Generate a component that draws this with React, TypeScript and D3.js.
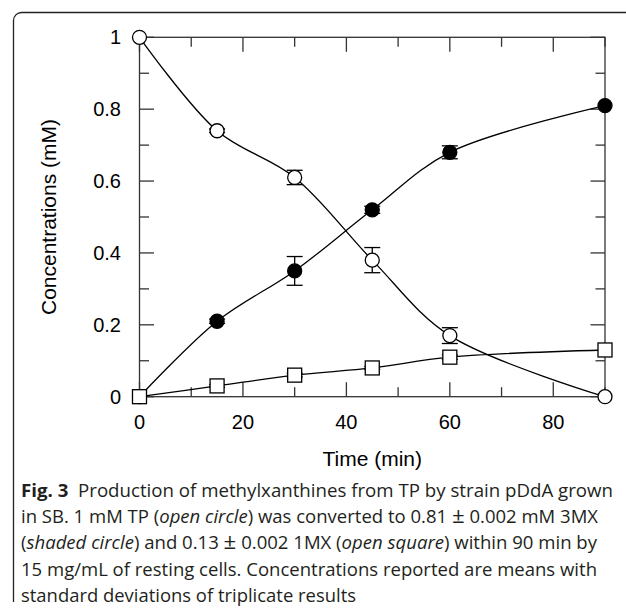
import React from "react";
import * as d3 from "d3";

const timeMin = [0, 15, 30, 45, 60, 90];
const tpMean = [1, 0.74, 0.61, 0.38, 0.17, 0];
const tpSd = [0, 0.005, 0.02, 0.035, 0.022, 0];
const mx3Mean = [0, 0.21, 0.35, 0.52, 0.68, 0.81];
const mx3Sd = [0, 0.006, 0.04, 0.01, 0.018, 0];
const mx1Mean = [0, 0.03, 0.06, 0.08, 0.11, 0.13];
const mx1Sd = [0, 0.004, 0.005, 0.004, 0.006, 0];

const xTickValues = [0, 10, 20, 30, 40, 50, 60, 70, 80, 90];
const xTickLabels = ["0", "", "20", "", "40", "", "60", "", "80", ""];
const yTickValues = [0, 0.1, 0.2, 0.3, 0.4, 0.5, 0.6, 0.7, 0.8, 0.9, 1];
const yTickLabels = ["0", "", "0.2", "", "0.4", "", "0.6", "", "0.8", "", "1"];

const xTitle = "Time (min)";
const yTitle = "Concentrations (mM)";

const W = 626;
const H = 612;
const left = 139.5;
const right = 605;
const top = 37.3;
const bottom = 396.7;

const x = d3.scaleLinear().domain([0, 90]).range([left, right]);
const y = d3.scaleLinear().domain([0, 1]).range([bottom, top]);

const line = d3
  .line<[number, number]>()
  .x((d) => x(d[0]))
  .y((d) => y(d[1]))
  .curve(d3.curveCatmullRom.alpha(0.5));

const axisColor = "#333";
const fontAxis = "'Liberation Sans', Arial, Helvetica, sans-serif";
const fontCap = "'Open Sans', 'Noto Sans', sans-serif";

function series(mean: number[]): [number, number][] {
  return timeMin.map((t, i) => [t, mean[i]]);
}

function ErrorBars({ mean, sd }: { mean: number[]; sd: number[] }) {
  return (
    <g stroke="#000" strokeWidth={1.3}>
      {timeMin.map((t, i) =>
        sd[i] > 0 ? (
          <g key={i}>
            <line x1={x(t)} x2={x(t)} y1={y(mean[i] - sd[i])} y2={y(mean[i] + sd[i])} />
            <line x1={x(t) - 8} x2={x(t) + 8} y1={y(mean[i] - sd[i])} y2={y(mean[i] - sd[i])} />
            <line x1={x(t) - 8} x2={x(t) + 8} y1={y(mean[i] + sd[i])} y2={y(mean[i] + sd[i])} />
          </g>
        ) : null
      )}
    </g>
  );
}

export default function App() {
  const majorLen = 14.5;
  const minorLen = 9.5;
  const capStart = 21;
  const capBase = 497;
  const capStep = 26.2;
  const capLens = [592, 577, 576, 576, 335];
  const pm = <tspan fontSize={21}>{"\u00b1"}</tspan>;
  return (
    <svg
      width={W}
      height={H}
      viewBox={`0 0 ${W} ${H}`}
      style={{ position: "fixed", left: 0, top: 0, background: "#fff" }}
    >
      <rect x={0} y={0} width={W} height={H} fill="#fff" />
      {/* frame */}
      <path
        d={`M13.5,602 V20.5 A8,8 0 0 1 21.5,12.5 H626`}
        fill="none"
        stroke="#222"
        strokeWidth={1.3}
      />
      {/* axes box */}
      <rect
        x={left}
        y={top}
        width={right - left}
        height={bottom - top}
        fill="none"
        stroke={axisColor}
        strokeWidth={1.3}
      />
      {/* ticks */}
      <g stroke={axisColor} strokeWidth={1.3}>
        {xTickValues.map((v, i) => {
          const len = i % 2 === 0 ? majorLen : minorLen;
          return (
            <g key={v}>
              <line x1={x(v)} x2={x(v)} y1={bottom} y2={bottom - len} />
              <line x1={x(v)} x2={x(v)} y1={top} y2={top + len} />
            </g>
          );
        })}
        {yTickValues.map((v, i) => {
          const len = i % 2 === 0 ? majorLen : minorLen;
          return (
            <g key={v}>
              <line x1={left} x2={left + len} y1={y(v)} y2={y(v)} />
              <line x1={right} x2={right - len} y1={y(v)} y2={y(v)} />
            </g>
          );
        })}
      </g>
      {/* tick labels */}
      <g fontFamily={fontAxis} fontSize={20} fill="#000">
        {xTickValues.map((v, i) =>
          xTickLabels[i] ? (
            <text key={v} x={x(v)} y={428.5} textAnchor="middle">
              {xTickLabels[i]}
            </text>
          ) : null
        )}
        {yTickValues.map((v, i) =>
          yTickLabels[i] ? (
            <text key={v} x={121} y={y(v) + 7} textAnchor="end">
              {yTickLabels[i]}
            </text>
          ) : null
        )}
      </g>
      <text
        x={(left + right) / 2}
        y={466}
        textAnchor="middle"
        fontFamily={fontAxis}
        fontSize={21}
      >
        {xTitle}
      </text>
      <text
        transform={`translate(55.5,${(top + bottom) / 2}) rotate(-90)`}
        textAnchor="middle"
        fontFamily={fontAxis}
        fontSize={21}
      >
        {yTitle}
      </text>
      {/* lines */}
      <g fill="none" stroke="#000" strokeWidth={1.3}>
        <path d={line(series(tpMean)) || ""} />
        <path d={line(series(mx3Mean)) || ""} />
        <path d={line(series(mx1Mean)) || ""} />
      </g>
      <ErrorBars mean={tpMean} sd={tpSd} />
      <ErrorBars mean={mx3Mean} sd={mx3Sd} />
      <ErrorBars mean={mx1Mean} sd={mx1Sd} />
      {/* markers */}
      <g fill="#000" stroke="#000" strokeWidth={1.3}>
        {timeMin.map((t, i) => (
          <circle key={i} cx={x(t)} cy={y(mx3Mean[i])} r={7} />
        ))}
      </g>
      <g fill="#fff" stroke="#000" strokeWidth={1.3}>
        {timeMin.map((t, i) => (
          <circle key={i} cx={x(t)} cy={y(tpMean[i])} r={7} />
        ))}
      </g>
      <g fill="#fff" stroke="#000" strokeWidth={1.3}>
        {timeMin.map((t, i) => (
          <rect key={i} x={x(t) - 7} y={y(mx1Mean[i]) - 7} width={14} height={14} />
        ))}
      </g>
      {/* caption */}
      <g fontFamily={fontCap} fontSize={17.5} fill="#231f20">
        <text x={capStart} y={capBase} textLength={capLens[0]} lengthAdjust="spacingAndGlyphs">
          <tspan fontWeight="bold">Fig. 3</tspan>
          <tspan>{"\u00a0\u00a0Production of methylxanthines from TP by strain pDdA grown"}</tspan>
        </text>
        <text x={capStart} y={capBase + capStep} textLength={capLens[1]} lengthAdjust="spacingAndGlyphs">
          <tspan>{"in SB. 1 mM TP ("}</tspan>
          <tspan fontStyle="italic">open circle</tspan>
          <tspan>{") was converted to 0.81 "}</tspan>
          {pm}
          <tspan>{" 0.002 mM 3MX"}</tspan>
        </text>
        <text x={capStart} y={capBase + capStep * 2} textLength={capLens[2]} lengthAdjust="spacingAndGlyphs">
          <tspan>(</tspan>
          <tspan fontStyle="italic">shaded circle</tspan>
          <tspan>{") and 0.13 "}</tspan>
          {pm}
          <tspan>{" 0.002 1MX ("}</tspan>
          <tspan fontStyle="italic">open square</tspan>
          <tspan>{") within 90 min by"}</tspan>
        </text>
        <text x={capStart} y={capBase + capStep * 3} textLength={capLens[3]} lengthAdjust="spacingAndGlyphs">
          15 mg/mL of resting cells. Concentrations reported are means with
        </text>
        <text x={capStart} y={capBase + capStep * 4} textLength={capLens[4]} lengthAdjust="spacingAndGlyphs">
          standard deviations of triplicate results
        </text>
      </g>
    </svg>
  );
}
